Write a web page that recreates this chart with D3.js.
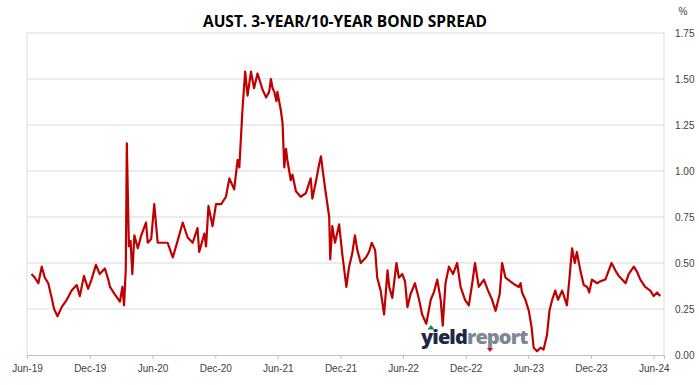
<!DOCTYPE html>
<html>
<head>
<meta charset="utf-8">
<script src="https://cdn.jsdelivr.net/npm/d3@7"></script>
<style>
  body { margin: 0; background: #fff; }
  svg { display: block; }
  .title { font-family: "Open Sans", "Liberation Sans", sans-serif; font-weight: 700; font-size: 15.5px; fill: #000; }
  .tick-label { font-family: "Liberation Sans", Arial, sans-serif; font-size: 10px; fill: #404040; }
</style>
</head>
<body>
<svg width="699" height="385"></svg>
<script>
var svg = d3.select("svg"),
    width = +svg.attr("width"),
    height = +svg.attr("height");

// x-axis tick labels (half-yearly)
var tickLabels = ["Jun-19", "Dec-19", "Jun-20", "Dec-20", "Jun-21", "Dec-21",
                  "Jun-22", "Dec-22", "Jun-23", "Dec-23", "Jun-24"];
var yTicks = [0, 0.25, 0.5, 0.75, 1.0, 1.25, 1.5, 1.75];

// 3yr/10yr spread, %
var dates = [
  "2019-06-14","2019-06-24","2019-07-04","2019-07-14","2019-07-23","2019-08-02","2019-08-12","2019-08-19",
  "2019-08-29","2019-09-10","2019-09-25","2019-10-09","2019-10-24","2019-11-02","2019-11-14","2019-11-26",
  "2019-12-06","2019-12-19","2019-12-30","2020-01-14","2020-01-24","2020-01-29","2020-02-12","2020-02-27",
  "2020-03-05","2020-03-10","2020-03-15","2020-03-18","2020-03-24","2020-03-29","2020-04-03","2020-04-09",
  "2020-04-19","2020-04-29","2020-05-13","2020-05-18","2020-05-28","2020-06-06","2020-06-16","2020-07-01",
  "2020-07-15","2020-07-30","2020-08-13","2020-08-28","2020-09-11","2020-09-26","2020-10-10","2020-10-15",
  "2020-10-30","2020-11-04","2020-11-11","2020-11-23","2020-12-03","2020-12-18","2021-01-01","2021-01-11",
  "2021-01-25","2021-02-04","2021-02-09","2021-02-18","2021-02-26","2021-03-05","2021-03-15","2021-03-24",
  "2021-04-03","2021-04-18","2021-04-28","2021-05-07","2021-05-12","2021-05-17","2021-05-22","2021-05-28",
  "2021-05-31","2021-06-10","2021-06-15","2021-06-20","2021-06-25","2021-06-29","2021-07-09","2021-07-14",
  "2021-07-24","2021-08-07","2021-08-22","2021-09-05","2021-09-10","2021-09-20","2021-09-30","2021-10-05",
  "2021-10-11","2021-10-19","2021-10-29","2021-11-01","2021-11-07","2021-11-15","2021-11-27","2021-12-06",
  "2021-12-18","2021-12-26","2022-01-04","2022-01-12","2022-01-19","2022-01-29","2022-02-13","2022-02-22",
  "2022-03-02","2022-03-12","2022-03-18","2022-03-28","2022-04-07","2022-04-17","2022-04-22","2022-05-01",
  "2022-05-13","2022-05-20","2022-05-30","2022-06-07","2022-06-14","2022-06-23","2022-07-06","2022-07-18",
  "2022-07-27","2022-08-08","2022-08-21","2022-08-30","2022-09-09","2022-09-19","2022-09-25","2022-10-03",
  "2022-10-13","2022-10-25","2022-11-06","2022-11-16","2022-11-29","2022-12-10","2022-12-20","2022-12-28",
  "2023-01-08","2023-01-23","2023-02-04","2023-02-16","2023-02-26","2023-03-10","2023-03-17","2023-03-27",
  "2023-04-10","2023-04-25","2023-05-05","2023-05-10","2023-05-14","2023-05-24","2023-06-03","2023-06-11",
  "2023-06-17","2023-06-27","2023-07-07","2023-07-16","2023-07-26","2023-08-02","2023-08-10","2023-08-19",
  "2023-08-27","2023-09-08","2023-09-17","2023-09-22","2023-09-29","2023-10-07","2023-10-15","2023-10-21",
  "2023-10-31","2023-11-10","2023-11-20","2023-11-26","2023-12-04","2023-12-19","2023-12-28","2024-01-12",
  "2024-01-22","2024-01-30","2024-02-10","2024-02-20","2024-03-01","2024-03-11","2024-03-20","2024-04-04",
  "2024-04-14","2024-04-23","2024-05-07","2024-05-22","2024-06-01","2024-06-11","2024-06-20"
];
var spread = [
  0.44,0.42,0.39,0.48,0.42,0.39,0.31,0.25,
  0.21,0.26,0.30,0.35,0.38,0.32,0.43,0.36,
  0.41,0.49,0.44,0.47,0.41,0.37,0.33,0.29,
  0.37,0.27,0.47,1.15,0.59,0.62,0.44,0.65,
  0.58,0.65,0.72,0.61,0.63,0.82,0.61,0.61,
  0.61,0.53,0.62,0.72,0.64,0.61,0.69,0.56,
  0.66,0.59,0.81,0.70,0.82,0.82,0.86,0.96,
  0.90,1.06,1.02,1.33,1.54,1.41,1.54,1.45,
  1.53,1.44,1.40,1.43,1.50,1.45,1.43,1.38,
  1.43,1.33,1.26,1.02,1.12,1.06,0.95,0.98,
  0.89,0.86,0.88,0.96,0.85,0.94,1.04,1.08,
  0.99,0.88,0.75,0.52,0.70,0.61,0.71,0.55,
  0.37,0.48,0.55,0.65,0.57,0.50,0.53,0.56,
  0.61,0.57,0.42,0.35,0.22,0.46,0.37,0.31,
  0.50,0.42,0.44,0.40,0.26,0.33,0.39,0.30,
  0.22,0.17,0.30,0.34,0.41,0.30,0.16,0.39,
  0.48,0.44,0.50,0.37,0.30,0.27,0.39,0.50,
  0.37,0.41,0.35,0.30,0.24,0.33,0.50,0.42,
  0.40,0.38,0.37,0.39,0.34,0.30,0.24,0.15,
  0.04,0.02,0.04,0.03,0.11,0.24,0.30,0.35,
  0.30,0.35,0.30,0.27,0.41,0.58,0.50,0.56,
  0.46,0.38,0.37,0.34,0.41,0.39,0.40,0.41,
  0.46,0.50,0.46,0.43,0.41,0.39,0.44,0.48,
  0.45,0.41,0.37,0.35,0.32,0.34,0.32
];

var parseDate = d3.timeParse("%Y-%m-%d"),
    parseTick = d3.timeParse("%b-%y");

var data = dates.map(function(d, i) { return { date: parseDate(d), value: spread[i] }; });

var plotLeft = 27, plotRight = 664, plotTop = 33, plotBottom = 355;

var x = d3.scaleTime()
    .domain([parseDate("2019-06-01"), parseDate("2024-07-01")])
    .range([plotLeft, plotRight]);

var y = d3.scaleLinear()
    .domain([0, 1.75])
    .range([plotBottom, plotTop]);

// title
svg.append("text")
  .attr("class", "title")
  .attr("x", 345)
  .attr("y", 27)
  .attr("text-anchor", "middle")
  .text("AUST. 3-YEAR/10-YEAR BOND SPREAD");

// gridlines (1.75 doubles as the top of the frame)
svg.append("g")
  .selectAll("line")
  .data(yTicks.filter(function(d) { return d > 0; }))
  .enter().append("line")
    .attr("x1", plotLeft)
    .attr("x2", plotRight)
    .attr("y1", function(d) { return y(d); })
    .attr("y2", function(d) { return y(d); })
    .attr("stroke", "#d9d9d9")
    .attr("stroke-width", 1);

// plot area side borders
svg.append("line")
  .attr("x1", plotLeft).attr("x2", plotLeft)
  .attr("y1", plotTop).attr("y2", plotBottom)
  .attr("stroke", "#d9d9d9");
svg.append("line")
  .attr("x1", plotRight).attr("x2", plotRight)
  .attr("y1", plotTop).attr("y2", plotBottom)
  .attr("stroke", "#d9d9d9");

// x axis
var xAxis = svg.append("g")
  .attr("transform", "translate(0," + plotBottom + ")")
  .call(d3.axisBottom(x)
    .tickValues(tickLabels.map(parseTick))
    .tickFormat(d3.timeFormat("%b-%y"))
    .tickSize(4)
    .tickPadding(6));
xAxis.select(".domain").attr("stroke", "#bfbfbf");
xAxis.selectAll(".tick line").attr("stroke", "#bfbfbf");
xAxis.selectAll(".tick text")
  .attr("class", "tick-label")
  .attr("font-family", null)
  .attr("font-size", null);

// y axis (labels on the right)
var yAxis = svg.append("g")
  .attr("transform", "translate(" + plotRight + ",0)")
  .call(d3.axisRight(y)
    .tickValues(yTicks)
    .tickFormat(d3.format(".2f"))
    .tickSize(0)
    .tickPadding(11));
yAxis.select(".domain").remove();
yAxis.selectAll(".tick text")
  .attr("class", "tick-label")
  .attr("font-family", null)
  .attr("font-size", null);

svg.append("text")
  .attr("class", "tick-label")
  .attr("x", 683)
  .attr("y", 15)
  .attr("text-anchor", "middle")
  .text("%");

// logo
var logo = svg.append("text")
  .attr("x", 421)
  .attr("y", 344)
  .style("font-family", "'Open Sans', 'Liberation Sans', sans-serif")
  .style("font-weight", 800)
  .style("font-size", "20px")
  .style("letter-spacing", "-0.9px");
logo.append("tspan").attr("fill", "#1f2749").text("yield");
logo.append("tspan").attr("fill", "#7d8796").text("report");

// green arrow over the "i", red arrow under "report"
svg.append("path")
  .attr("d", "M431,325 L434.5,329.5 L427.5,329.5 Z")
  .attr("fill", "#1a8a3a");
svg.append("path")
  .attr("d", "M487,348 L493,348 L490,352 Z")
  .attr("fill", "#e8001c");

// the spread line
var line = d3.line()
  .x(function(d) { return x(d.date); })
  .y(function(d) { return y(d.value); });

svg.append("path")
  .datum(data)
  .attr("fill", "none")
  .attr("stroke", "#c00000")
  .attr("stroke-width", 2.2)
  .attr("stroke-linejoin", "round")
  .attr("d", line);
</script>
</body>
</html>
